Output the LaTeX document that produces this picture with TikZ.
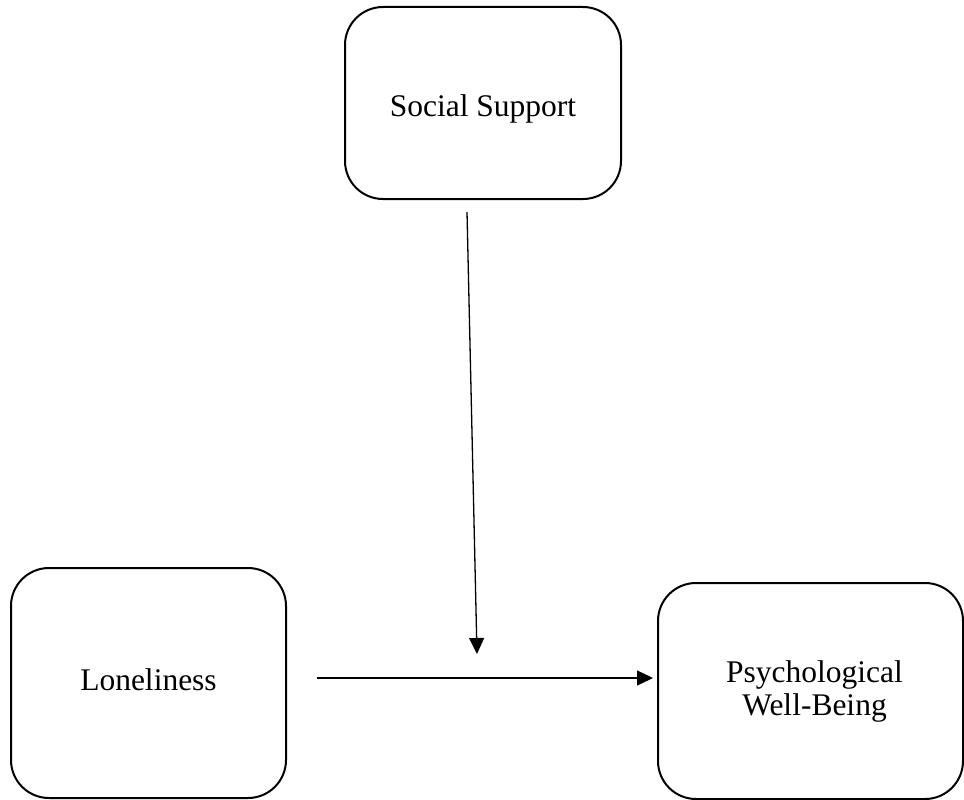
\documentclass[tikz,border=0pt]{standalone}
\usepackage{fontspec}
\setmainfont{Liberation Serif}
\usepackage{tikz}
\usetikzlibrary{arrows.meta, positioning, calc}

\begin{document}
\begin{tikzpicture}[
            x=1pt, y=1pt,
            var/.style={draw=black, line width=2pt, rounded corners=38pt, inner sep=0pt, align=center, font=\fontsize{31.5}{33}\selectfont},
            path/.style={line width=1.3pt, -{Triangle[length=16pt, width=15pt]}}
        ]
        \useasboundingbox (0,0) rectangle (964,-800);

        % The Boxes
        \node[var, minimum width=276pt, minimum height=192pt, text height=27pt, text depth=0pt] (support) at (483,-103) {Social Support};
        \node[var, minimum width=275pt, minimum height=230pt, text height=14pt, text depth=0pt] (lonely) at (148.5,-683) {Loneliness};
        \node[var, minimum width=305pt, minimum height=216pt] (wellbeing) at (810.5,-691) {\hspace*{8pt}Psychological\\\hspace*{8pt}Well-Being};

        % Paths
        \coordinate (modstart) at (467,-212);
        \coordinate (modend) at (477,-654);
        \coordinate (xstart) at (317,-678);
        \draw[path] (modstart) -- (modend);
        \draw[path, shorten >=4pt] (xstart) -- (xstart -| wellbeing.west);

        \end{tikzpicture}
\end{document}
